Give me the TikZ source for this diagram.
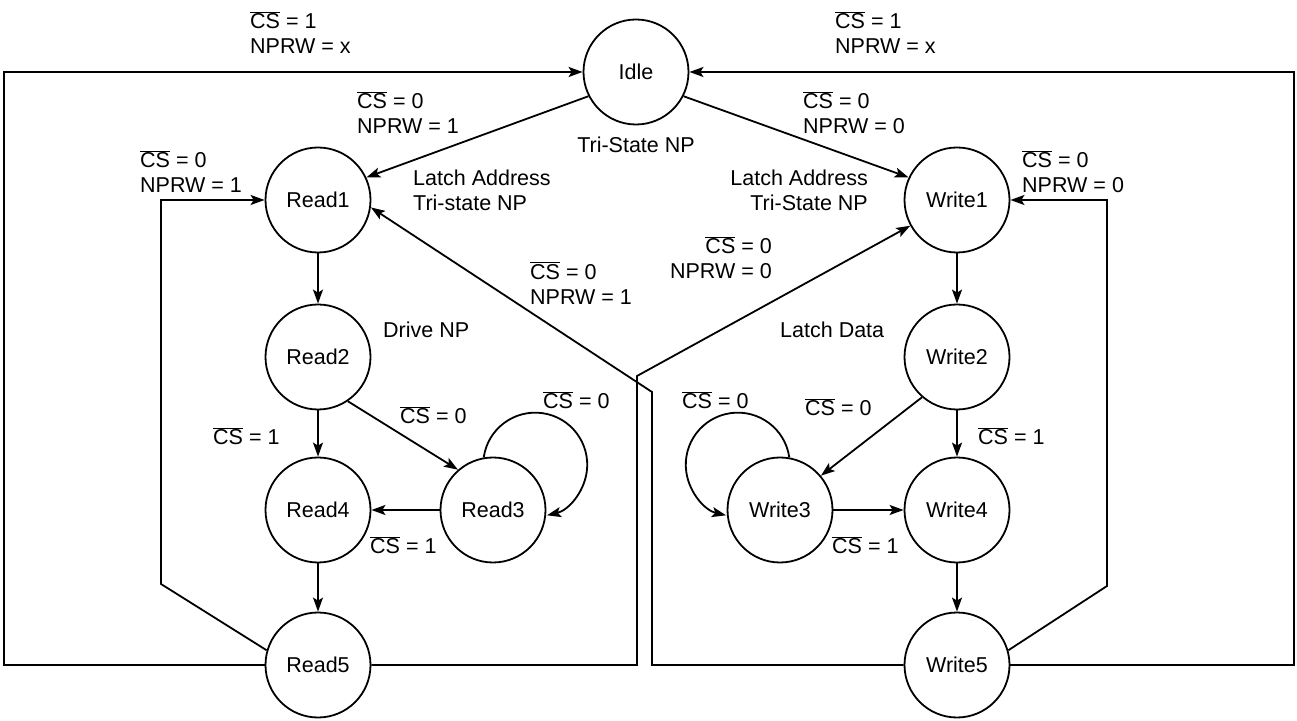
\documentclass[tikz,border=0pt]{standalone}
\usepackage{fontspec}
\setmainfont{Liberation Sans}
\usetikzlibrary{arrows.meta}
\newcommand{\csn}{$\overline{\hbox{CS}}$}

\begin{document}
\begin{tikzpicture}[x=1pt,y=1pt,font=\fontsize{21.5}{25}\selectfont,
  state/.style={circle,draw,line width=1.8pt,minimum size=105pt,inner sep=0pt},
  tr/.style={-{Stealth[length=14pt,width=10pt,inset=3pt]},line width=1.8pt},
  lbl/.style={anchor=west,align=left,inner sep=0pt}]
  \useasboundingbox (0,0) rectangle (1297,720);
  \foreach \nm/\x/\y in {Idle/636/648, Read1/318/520, Read2/318/363, Read3/493/210,
      Read4/318/210, Read5/318/55, Write1/957/520, Write2/957/363, Write3/780/210,
      Write4/957/210, Write5/957/55}
    \node[state] (\nm) at (\x,\y) {\nm};

  \draw[tr] (Idle.207) -- (Read1.25);
  \draw[tr] (Idle.-27) -- (Write1.155);
  \foreach \a/\b in {Read1/Read2, Read2/Read4, Read4/Read5, Read3/Read4,
      Write1/Write2, Write2/Write4, Write4/Write5, Write3/Write4}
    \draw[tr] (\a) -- (\b);
  \draw[tr] (Read2.-56) -- (Read3.131);
  \draw[tr] (Write2.229) -- (Write3.40);
  \draw[tr] (Read3.100) arc[start angle=172,end angle=-77,radius=52];
  \draw[tr] (Write3.80) arc[start angle=8,end angle=257,radius=52];

  % return paths
  \draw[tr] (Read5.west) -- ++(-260.5,0) |- (Idle.west);
  \draw[tr] (Write5.east) -- ++(283.5,0) |- (Idle.east);
  \draw[tr] (Read5.164) -- (161,136) |- (Read1.west);
  \draw[tr] (Write5.16) -- (1107,134) |- (Write1.east);
  \draw[tr] (Read5.east) -| (637,344) -- (Write1);
  \draw[tr] (Write5.west) -| (652,328) -- (Read1.-8);

  \node[lbl] (tl) at (250,687) {\csn{} = 1\\NPRW = x};
  \node[lbl] (tr) at (835,687) {\csn{} = 1\\NPRW = x};
  \node[lbl] (ir) at (357,607) {\csn{} = 0\\NPRW = 1};
  \node[lbl] (iw) at (803,607) {\csn{} = 0\\NPRW = 0};
  \node[inner sep=0pt] (tri) at (636,575) {Tri-State NP};
  \node[lbl] (rl) at (140,548) {\csn{} = 0\\NPRW = 1};
  \node[lbl] (wl) at (1022,548) {\csn{} = 0\\NPRW = 0};
  \node[lbl] (la1) at (413,530) {Latch Address\\Tri-state NP};
  \node[lbl,anchor=east,align=right] (la2) at (868,530) {Latch Address\\Tri-State NP};
  \node[lbl,anchor=east,align=right] (xw) at (772,462) {\csn{} = 0\\NPRW = 0};
  \node[lbl] (xr) at (530,437) {\csn{} = 0\\NPRW = 1};
  \node[lbl] (drv) at (383,390) {Drive NP};
  \node[lbl] (ld) at (780,390) {Latch Data};
  \node[lbl] (r24) at (213,284) {\csn{} = 1};
  \node[lbl] (r23) at (400,305) {\csn{} = 0};
  \node[lbl] (r33) at (543,320) {\csn{} = 0};
  \node[lbl] (r34) at (370,175) {\csn{} = 1};
  \node[lbl] (w33) at (682,320) {\csn{} = 0};
  \node[lbl] (w23) at (805,313) {\csn{} = 0};
  \node[lbl] (w24) at (978,284) {\csn{} = 1};
  \node[lbl] (w34) at (832,175) {\csn{} = 1};
\end{tikzpicture}
\end{document}
